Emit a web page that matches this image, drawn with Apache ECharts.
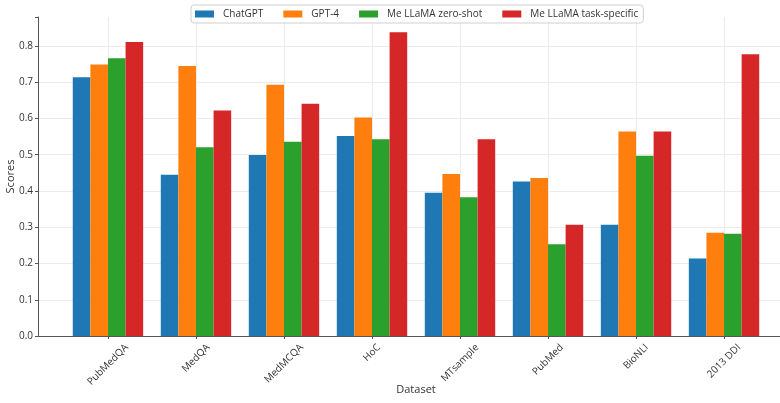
<!DOCTYPE html>
<html><head><meta charset="utf-8">
<script src="https://cdn.jsdelivr.net/npm/echarts@6/dist/echarts.min.js"></script>
<style>html,body{margin:0;padding:0;background:#fff;overflow:hidden;width:780px;height:403px}#c{width:796px;height:403px}</style>
</head><body><div id="c"></div>
<script>
const categories = ['PubMedQA','MedQA','MedMCQA','HoC','MTsample','PubMed','BioNLI','2013 DDI'];
const seriesNames = ['ChatGPT','GPT-4','Me LLaMA zero-shot','Me LLaMA task-specific'];
const chatgpt      = [0.714,0.445,0.499,0.552,0.395,0.426,0.307,0.214];
const gpt4         = [0.749,0.745,0.693,0.603,0.447,0.436,0.564,0.285];
const zeroShot     = [0.766,0.521,0.536,0.543,0.383,0.253,0.497,0.282];
const taskSpecific = [0.811,0.622,0.641,0.838,0.543,0.307,0.564,0.777];
const colors = ['#1f77b4','#ff7f0e','#2ca02c','#d62728'];

const FONT = '"Open Sans", sans-serif';
const FS = 10;
const cv = document.createElement('canvas').getContext('2d');
cv.font = FS + 'px "Open Sans"';
const rich = {};
categories.forEach((c, i) => {
  const w = cv.measureText(c).width;
  const p = (w + FS * 1.1) / 2;
  rich['c' + i] = { fontFamily: FONT, fontSize: FS, color: '#333', padding: [p, p, 0, 0] };
});
const idx = categories.map((_, i) => i);

const chart = echarts.init(document.getElementById('c'), null, { renderer: 'canvas' });
const allData = [chatgpt, gpt4, zeroShot, taskSpecific];
chart.setOption({
  backgroundColor: '#fff',
  animation: false,
  textStyle: { fontFamily: FONT },
  legend: {
    data: seriesNames, left: 191, top: 5,
    itemWidth: 19, itemHeight: 7, itemGap: 20,
    padding: [4, 5, 4, 4],
    borderColor: '#d0d0d0', borderWidth: 1, borderRadius: 3,
    backgroundColor: 'rgba(255,255,255,0.85)',
    textStyle: { fontFamily: FONT, fontSize: FS, color: '#333', padding: [0, 0, 0, 4] },
    icon: 'rect'
  },
  grid: { left: 38, right: 2, top: 17, bottom: 67, containLabel: false, outerBoundsMode: 'none' },
  xAxis: {
    type: 'value', min: -0.795, max: 7.795,
    name: 'Dataset', nameLocation: 'middle', nameGap: 48, nameMoveOverlap: false,
    nameTextStyle: { fontFamily: FONT, fontSize: 11, color: '#333' },
    axisLine: { show: true, onZero: false, lineStyle: { color: '#555', width: 1 } },
    axisTick: { show: true, customValues: idx, length: 3, lineStyle: { color: '#555' } },
    axisLabel: {
      customValues: idx, rotate: 45, align: 'center', verticalAlign: 'middle', margin: 6,
      formatter: v => { const i = Math.round(v); return '{c' + i + '|' + categories[i] + '}'; },
      rich: rich
    },
    splitLine: { show: true, lineStyle: { color: '#ebebeb', width: 1 } }
  },
  yAxis: {
    type: 'value', min: 0, max: 0.88, interval: 0.1,
    name: 'Scores', nameLocation: 'middle', nameGap: 22, nameMoveOverlap: false,
    nameTextStyle: { fontFamily: FONT, fontSize: 11, color: '#333' },
    axisLine: { show: true, onZero: false, lineStyle: { color: '#555', width: 1 } },
    axisTick: { show: true, length: 3, lineStyle: { color: '#555' } },
    axisLabel: {
      fontFamily: FONT, fontSize: FS, color: '#333', margin: 5,
      formatter: v => (Math.abs(v * 10 - Math.round(v * 10)) < 1e-6 ? v.toFixed(1) : '')
    },
    splitLine: { show: true, showMaxLine: false, lineStyle: { color: '#ebebeb', width: 1 } }
  },
  series: seriesNames.map((n, s) => ({
    name: n, type: 'bar', barWidth: 17.6, barGap: '0%',
    itemStyle: { color: colors[s] },
    data: allData[s].map((v, i) => [i, v]),
    z: 2
  }))
});
</script></body></html>
